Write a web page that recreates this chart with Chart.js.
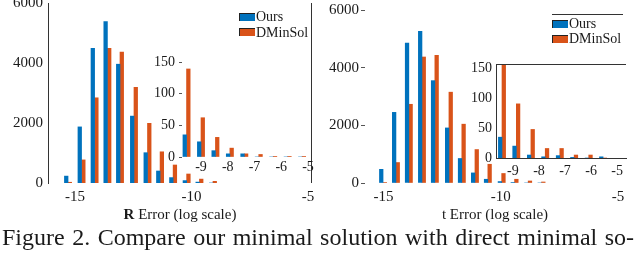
<!DOCTYPE html>
<html>
<head>
<meta charset="utf-8">
<script src="https://cdn.jsdelivr.net/npm/chart.js@4.4.0/dist/chart.umd.min.js"></script>
<style>
  body { margin: 0; width: 640px; height: 258px; background: #fff; position: relative; overflow: hidden;
         font-family: 'Liberation Serif', 'Times New Roman', serif; color: #1a1a1a; }
  canvas { position: absolute; }
  .lab { position: absolute; white-space: nowrap; font-size: 14px; line-height: 14px; }
  .sw { position: absolute; width: 16px; height: 8px; box-sizing: border-box; border-left: 1px solid #222; border-top: 1px solid #222; }
  .title { position: absolute; white-space: nowrap; font-size: 15px; line-height: 16px; transform: translateX(-50%); }
  #caption { position: absolute; left: 2px; top: 225px; font-size: 24px; line-height: 24px; word-spacing: 1.5px; white-space: nowrap; }
</style>
</head>
<body>
<canvas id="rMain" width="320" height="210" style="left:0;top:0"></canvas>
<canvas id="rInset" width="170" height="135" style="left:150px;top:50px"></canvas>
<canvas id="tMain" width="320" height="210" style="left:320px;top:0"></canvas>
<canvas id="tInset" width="180" height="135" style="left:460px;top:50px"></canvas>

<!-- legends -->
<div class="sw" style="left:239px;top:13px;background:#0072BD"></div>
<div class="lab" style="left:256px;top:10px">Ours</div>
<div class="sw" style="left:239px;top:28px;background:#D95319"></div>
<div class="lab" style="left:256px;top:26px">DMinSol</div>

<div style="position:absolute;left:552px;top:14px;width:71px;height:1px;background:#333"></div>
<div class="sw" style="left:552px;top:20px;background:#0072BD"></div>
<div class="lab" style="left:569px;top:17px">Ours</div>
<div class="sw" style="left:552px;top:35px;background:#D95319"></div>
<div class="lab" style="left:569px;top:32px">DMinSol</div>

<div class="title" style="left:180px;top:206px"><b>R</b> Error (log scale)</div>
<div class="title" style="left:495px;top:206px">t Error (log scale)</div>
<div id="caption">Figure 2. Compare our minimal solution with direct minimal so-</div>

<script>
// histogram bins (log10 error) and counts
const rMainBins = [-15.30, -14.72, -14.16, -13.61, -13.07, -12.47, -11.89, -11.35, -10.79, -10.21, -9.66, -9.08];
const rMainOurs = [230, 1870, 4490, 5380, 3960, 2230, 1010, 400, 180, 80, 30, 0];
const rMainDMinSol = [25, 770, 2840, 4490, 4360, 3190, 1990, 1040, 600, 300, 130, 55];

const rInsetBins = [-9.54, -9.00, -8.46, -7.92, -7.38, -6.84, -6.30, -5.76, -5.22];
const rInsetOurs = [35, 24, 10, 5, 5, 0, 0, 0, 0];
const rInsetDMinSol = [139, 62, 31, 14, 5, 4, 1, 1, 1];

const tMainBins = [-15.02, -14.47, -13.92, -13.36, -12.81, -12.21, -11.66, -11.10, -10.55, -9.96, -9.41, -8.83, -8.26];
const tMainOurs = [475, 2450, 4850, 5260, 3550, 1910, 850, 350, 130, 50, 15, 0, 0];
const tMainDMinSol = [20, 710, 2730, 4370, 4430, 3150, 2040, 1160, 650, 330, 130, 70, 35];

const tInsetBins = [-9.42, -8.87, -8.31, -7.76, -7.20, -6.65, -6.09, -5.54];
const tInsetOurs = [35, 20, 5, 2, 4, 1, 0, 2];
const tInsetDMinSol = [200, 91, 48, 16, 16, 5, 5, 0];

const mainXTicks = [-15, -10, -5];
const mainYTicks = [0, 2000, 4000, 6000];
const insetXTicks = [-9, -8, -7, -6, -5];
const insetYTicks = [0, 50, 100, 150];

const BLUE = '#0072BD';
const ORANGE = '#D95319';
const INK = '#1a1a1a';

Chart.defaults.font.family = "'Liberation Serif', 'Times New Roman', serif";
Chart.defaults.color = INK;

// extra box lines that the axes don't draw
const frame = {
    id: 'frame',
    afterDatasetsDraw(chart, args, opts) {
        const a = chart.chartArea, ctx = chart.ctx;
        ctx.save();
        ctx.strokeStyle = opts.color || '#333';
        ctx.lineWidth = 1;
        ctx.beginPath();
        if (opts.top) { ctx.moveTo(a.left, a.top + 0.5); ctx.lineTo(a.right, a.top + 0.5); }
        if (opts.right) { ctx.moveTo(a.right - 0.5, a.top); ctx.lineTo(a.right - 0.5, a.bottom); }
        ctx.stroke();
        ctx.restore();
    }
};

// fixed axis size, and no extra room for labels hanging over the ends
function fixSize(s, prop, size) {
    s[prop] = size;
    s.paddingTop = s.paddingBottom = s.paddingLeft = s.paddingRight = 0;
}

function histChart(id, bins, ours, dmin, c) {
    return new Chart(document.getElementById(id), {
        type: 'bar',
        data: {
            datasets: [
                { label: 'Ours', data: bins.map((b, i) => ({ x: b, y: ours[i] })), backgroundColor: BLUE, barThickness: 3.6 },
                { label: 'DMinSol', data: bins.map((b, i) => ({ x: b, y: dmin[i] })), backgroundColor: ORANGE, barThickness: 3.6 }
            ]
        },
        options: {
            responsive: false,
            animation: false,
            layout: { padding: c.pad },
            plugins: { legend: { display: false }, tooltip: { enabled: false }, frame: c.frame || {} },
            scales: {
                x: {
                    type: 'linear', min: c.xmin, max: c.xmax, offset: false,
                    grid: { display: false, drawTicks: false, offset: false },
                    border: { display: !!c.xBorder, color: '#333' },
                    ticks: { font: { size: c.font }, padding: c.xPad, maxRotation: 0, callback: v => String(v) },
                    afterBuildTicks: s => { s.ticks = c.xTicks.map(v => ({ value: v })); },
                    afterFit: s => fixSize(s, 'height', c.xh)
                },
                y: {
                    min: 0, max: c.ymax,
                    grid: { display: !!c.yTickLen, drawOnChartArea: false, drawTicks: !!c.yTickLen, tickLength: c.yTickLen || 0, color: '#555' },
                    border: { display: !!c.yBorder, color: '#333' },
                    ticks: { font: { size: c.font }, padding: c.yPad, callback: v => String(v) },
                    afterBuildTicks: s => { s.ticks = c.yTicks.map(v => ({ value: v })); },
                    afterFit: s => fixSize(s, 'width', c.yw)
                }
            }
        },
        plugins: [frame]
    });
}

histChart('rMain', rMainBins, rMainOurs, rMainDMinSol, {
    pad: { left: 0, right: 8, top: 3, bottom: 0 }, yw: 48, xh: 27,
    xmin: -16.16, xmax: -4.83, ymax: 6000, xTicks: mainXTicks, yTicks: mainYTicks,
    font: 15, xPad: 5, yPad: 5, yBorder: true, frame: { right: true }
});

histChart('tMain', tMainBins, tMainOurs, tMainDMinSol, {
    pad: { left: 0, right: 15, top: 10, bottom: 0 }, yw: 45, xh: 27,
    xmin: -15.79, xmax: -4.70, ymax: 6000, xTicks: mainXTicks, yTicks: mainYTicks,
    font: 15, xPad: 5, yPad: 2, yTickLen: 4
});

histChart('rInset', rInsetBins, rInsetOurs, rInsetDMinSol, {
    pad: { left: 0, right: 8, top: 12, bottom: 0 }, yw: 32, xh: 28,
    xmin: -9.71, xmax: -4.85, ymax: 150, xTicks: insetXTicks, yTicks: insetYTicks,
    font: 14, xPad: 2, yPad: 4, yTickLen: 3
});

histChart('tInset', tInsetBins, tInsetOurs, tInsetDMinSol, {
    pad: { left: 0, right: 14, top: 14, bottom: 0 }, yw: 36, xh: 27,
    xmin: -9.65, xmax: -4.66, ymax: 158, xTicks: insetXTicks, yTicks: insetYTicks,
    font: 14, xPad: 5, yPad: 4, yBorder: true, xBorder: true, frame: { top: true }
});
</script>
</body>
</html>
